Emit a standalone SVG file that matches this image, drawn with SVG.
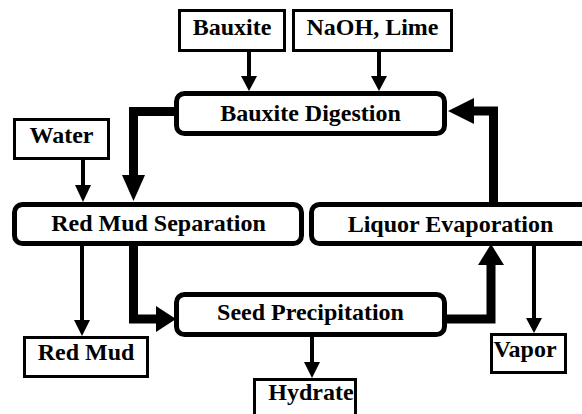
<svg xmlns="http://www.w3.org/2000/svg" width="582" height="414" viewBox="0 0 582 414">
<style>
.box{fill:#fff;stroke:#000;stroke-width:3}
.rbox{fill:#fff;stroke:#000;stroke-width:5}
.t{font-family:"Liberation Serif","Times New Roman",serif;font-weight:bold;font-size:24px;text-anchor:middle;fill:#000}
.thin{fill:none;stroke:#000;stroke-width:4}
.thick{fill:none;stroke:#000;stroke-width:9;stroke-linejoin:miter}
.head{fill:#000}
</style>
<rect width="582" height="414" fill="#fff"/>
<g id="connectors">
  <line class="thin" x1="249" y1="52" x2="249" y2="78"/>
  <polygon class="head" points="241,76 257,76 249,91"/>
  <line class="thin" x1="379" y1="52" x2="379" y2="78"/>
  <polygon class="head" points="371,76 387,76 379,91"/>
  <line class="thin" x1="83" y1="160" x2="83" y2="187"/>
  <polygon class="head" points="75,185 91,185 83,202"/>
  <line class="thin" x1="82" y1="246" x2="82" y2="322"/>
  <polygon class="head" points="74,320 90,320 82,336"/>
  <line class="thin" x1="312" y1="337" x2="312" y2="364"/>
  <polygon class="head" points="304,362 320,362 312,378"/>
  <line class="thin" x1="534" y1="246" x2="534" y2="320"/>
  <polygon class="head" points="526,318 542,318 534,333"/>
  <polyline class="thick" points="176,111.5 133.5,111.5 133.5,177"/>
  <polygon class="head" points="122,175 145,175 133.5,201"/>
  <polyline class="thick" points="133.5,246 133.5,319 158,319"/>
  <polygon class="head" points="156,306 156,332 176,319"/>
  <polyline class="thick" points="445,319 491,319 491,264"/>
  <polygon class="head" points="478,265 504,265 491,244"/>
  <polyline class="thick" points="493.5,204 493.5,111 473,111"/>
  <polygon class="head" points="474,98 474,124 448,111"/>
</g>
<g id="bauxite"><rect class="box" x="179.5" y="10.5" width="105" height="40"/><text class="t" x="232" y="35">Bauxite</text></g>
<g id="naoh"><rect class="box" x="293.5" y="10.5" width="158" height="40"/><text class="t" x="372.5" y="35">NaOH, Lime</text></g>
<g id="digestion"><rect class="rbox" x="176.5" y="93.5" width="268" height="40" rx="8"/><text class="t" x="310.5" y="121">Bauxite Digestion</text></g>
<g id="water"><rect class="box" x="14.5" y="119.5" width="94" height="39"/><text class="t" x="61.5" y="143">Water</text></g>
<g id="separation"><rect class="rbox" x="14.5" y="204.5" width="287" height="39" rx="8"/><text class="t" x="158.5" y="231">Red Mud Separation</text></g>
<g id="evaporation"><rect class="rbox" x="311.5" y="204.5" width="280" height="39" rx="8"/><text class="t" x="450.5" y="232">Liquor Evaporation</text></g>
<g id="precipitation"><rect class="rbox" x="176.5" y="294.5" width="268" height="40" rx="8"/><text class="t" x="310.5" y="320">Seed Precipitation</text></g>
<g id="redmud"><rect class="box" x="24.5" y="337.5" width="123" height="39"/><text class="t" x="86" y="360">Red Mud</text></g>
<g id="hydrate"><rect class="box" x="254.5" y="379.5" width="101" height="45"/><text class="t" x="311" y="400">Hydrate</text></g>
<g id="vapor"><rect class="box" x="491.5" y="334.5" width="74" height="38"/><text class="t" x="525" y="357">Vapor</text></g>
</svg>
